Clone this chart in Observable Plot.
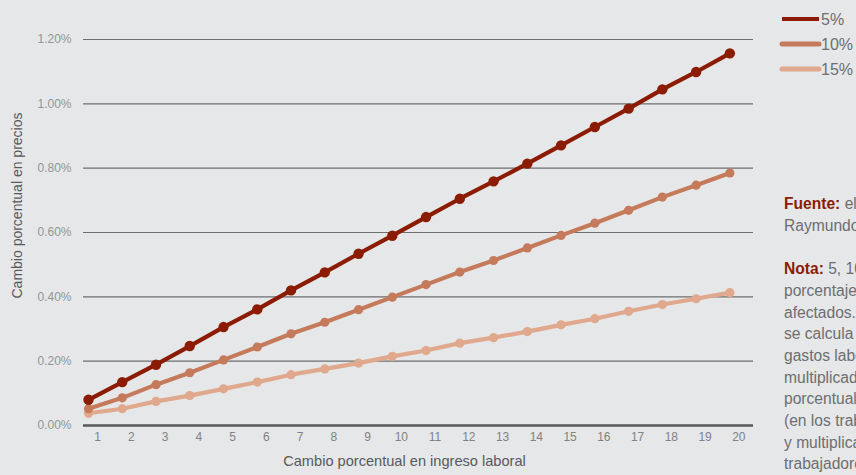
<!DOCTYPE html>
<html>
<head>
<meta charset="utf-8">
<script src="https://cdn.jsdelivr.net/npm/d3@7"></script>
<script src="https://cdn.jsdelivr.net/npm/@observablehq/plot@0.6"></script>
<style>
  html, body { margin: 0; padding: 0; }
  body { width: 856px; height: 475px; overflow: hidden; position: relative; background: #e6e7e8; font-family: "Liberation Sans", Arial, sans-serif; }
  #chart { position: absolute; left: 0; top: 0; }
  #legend { position: absolute; left: 0; top: 0; }
  #notes { position: absolute; left: 784px; top: 193px; font-size: 15.6px; line-height: 21.7px; color: #6d6e71; white-space: nowrap; }
  #notes b { color: #8b1c03; }
</style>
</head>
<body>
<div id="chart"></div>
<svg id="legend" width="856" height="90"></svg>
<div id="notes">
  <div><b>Fuente:</b> elaboración propia con datos de</div>
  <div>Raymundo Campos Vázquez.</div>
  <div>&nbsp;</div>
  <div><b>Nota:</b> 5, 10 y 15% corresponden al</div>
  <div>porcentaje de trabajadores</div>
  <div>afectados. El cambio en precios</div>
  <div>se calcula como la participación de los</div>
  <div>gastos laborales en los costos totales,</div>
  <div>multiplicado por el cambio</div>
  <div>porcentual en el ingreso laboral</div>
  <div>(en los trabajadores afectados)</div>
  <div>y multiplicado por el porcentaje de</div>
  <div>trabajadores afectados.</div>
</div>
<script>
const ingreso = [1,2,3,4,5,6,7,8,9,10,11,12,13,14,15,16,17,18,19,20];
const serie5  = [0.080,0.135,0.189,0.247,0.306,0.361,0.420,0.476,0.534,0.590,0.648,0.705,0.759,0.814,0.871,0.928,0.985,1.045,1.099,1.157];
const serie10 = [0.052,0.086,0.127,0.164,0.204,0.244,0.285,0.321,0.360,0.399,0.438,0.477,0.513,0.552,0.591,0.629,0.669,0.710,0.747,0.785];
const serie15 = [0.038,0.052,0.075,0.093,0.114,0.135,0.158,0.176,0.194,0.215,0.233,0.256,0.273,0.292,0.313,0.332,0.355,0.376,0.394,0.413];
const seriesNames = ["5%", "10%", "15%"];
const seriesColors = ["#8b1c03", "#c57a5c", "#e0a88c"];
const yTicks = [0, 0.2, 0.4, 0.6, 0.8, 1.0, 1.2];
const yLabel = "Cambio porcentual en precios";
const xLabel = "Cambio porcentual en ingreso laboral";

const allSeries = [serie5, serie10, serie15];
const rows = (k) => ingreso.map((x, i) => ({x, y: allSeries[k][i], s: seriesNames[k]}));
const lineW = [4.2, 4.2, 4.2];
const dotR = [5.2, 4.6, 4.6];

const marks = [
  Plot.ruleY(yTicks.filter(d => d > 0), {stroke: "#6d6e71", strokeWidth: 1.2}),
  Plot.ruleY([0], {stroke: "#58595b", strokeWidth: 2.5}),
  Plot.axisY({ticks: yTicks, tickFormat: d => d.toFixed(2) + "%", tickSize: 0, tickPadding: 12, label: null, fontSize: 12, fill: "#939598"}),
  Plot.axisX({ticks: ingreso, tickFormat: d => String(d), tickSize: 0, tickPadding: 7, dx: 9, label: null, fontSize: 12, fill: "#808285"}),
  Plot.text([yLabel], {frameAnchor: "left", textAnchor: "middle", rotate: -90, dx: -66, dy: -27, fontSize: 14, fill: "#58595b"}),
  Plot.text([xLabel], {frameAnchor: "bottom", textAnchor: "middle", dx: -14, dy: 40, fontSize: 14.6, fill: "#58595b"})
];
for (const k of [2, 1, 0]) {
  marks.push(Plot.line(rows(k), {x: "x", y: "y", stroke: seriesColors[k], strokeWidth: lineW[k], strokeLinejoin: "round", strokeLinecap: "round"}));
  marks.push(Plot.dot(rows(k), {x: "x", y: "y", fill: seriesColors[k], r: dotR[k]}));
}

const chart = Plot.plot({
  width: 770, height: 475,
  marginLeft: 83, marginRight: 17, marginTop: 39, marginBottom: 50,
  style: {background: "transparent", fontFamily: "Liberation Sans, Arial, sans-serif"},
  x: {domain: [0.852, 20.70]},
  y: {domain: [0, 1.2]},
  marks
});
document.getElementById("chart").appendChild(chart);

const leg = d3.select("#legend");
seriesNames.forEach((name, k) => {
  const y = 19 + k * 25;
  leg.append("line").attr("x1", 782).attr("x2", 819).attr("y1", y).attr("y2", y)
    .attr("stroke", seriesColors[k]).attr("stroke-width", k === 0 ? 4 : 5).attr("stroke-linecap", k === 0 ? "butt" : "round");
  leg.append("text").attr("x", 821).attr("y", y).attr("dy", "0.35em")
    .attr("font-size", 16).attr("fill", "#6d6e71").attr("font-family", "Liberation Sans, Arial, sans-serif").text(name);
});
</script>
</body>
</html>
